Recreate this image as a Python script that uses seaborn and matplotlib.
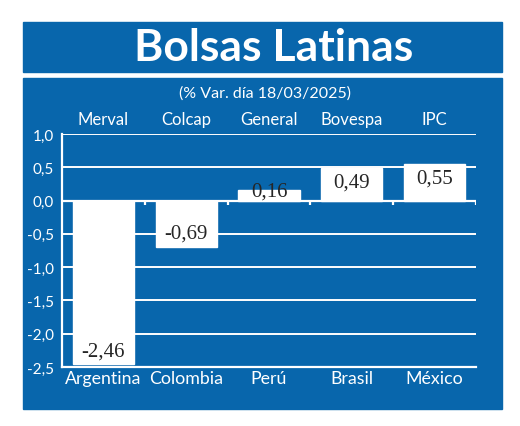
import numpy as np
import pandas as pd
import matplotlib.pyplot as plt
import seaborn as sns
from matplotlib.patches import Rectangle
from matplotlib.ticker import FuncFormatter
import matplotlib.transforms as mtransforms

# datos del gráfico
paises = ["Argentina", "Colombia", "Perú", "Brasil", "México"]
indices = ["Merval", "Colcap", "General", "Bovespa", "IPC"]
variacion = [-2.46, -0.69, 0.16, 0.49, 0.55]
y_ticks = [1.0, 0.5, 0.0, -0.5, -1.0, -1.5, -2.0, -2.5]

AZUL = "#0866ac"
SANS = ["Lato", "DejaVu Sans"]
SERIF = ["Liberation Serif", "DejaVu Serif"]

sns.set_style("white")
plt.rcParams["font.family"] = SANS

df = pd.DataFrame({"pais": paises, "indice": indices, "var": variacion})

W, H = 520, 427
fig = plt.figure(figsize=(W / 100, H / 100), dpi=100)
fig.patch.set_facecolor("white")

# cajas azules de fondo
fig.patches.append(Rectangle((23 / W, 1 - 73 / H), 479 / W, 50 / H,
                             transform=fig.transFigure, color=AZUL, zorder=-10))
fig.patches.append(Rectangle((23 / W, 1 - 410 / H), 479 / W, 331 / H,
                             transform=fig.transFigure, color=AZUL, zorder=-10))

fig.text(274 / W, 1 - 48 / H, "Bolsas Latinas", color="white", fontsize=32,
         fontweight="bold", ha="center", va="center")
fig.text(265 / W, 1 - 94 / H, "(% Var. día 18/03/2025)", color="white",
         fontsize=11.5, ha="center", va="center")

ax = fig.add_axes([62 / W, 1 - 368 / H, 414 / W, 233 / H])
ax.set_zorder(1)
ax.set_facecolor(AZUL)

sns.barplot(data=df, x="pais", y="var", color="white", width=0.74,
            saturation=1, ax=ax, zorder=3)

ax.set_ylim(-2.5, 1.0)
ax.set_xlim(-0.5, len(paises) - 0.5)
ax.set_yticks(y_ticks)
ax.yaxis.set_major_formatter(FuncFormatter(lambda v, p: f"{v:.1f}".replace(".", ",")))
ax.grid(axis="y", color="white", linewidth=1.4, zorder=1)
ax.grid(axis="x", visible=False)
ax.set_axisbelow(True)
ax.set_xlabel("")
ax.set_ylabel("")

for s in ["top", "right"]:
    ax.spines[s].set_visible(False)
for s in ["left", "bottom"]:
    ax.spines[s].set_color("white")
    ax.spines[s].set_linewidth(1.6)

ax.tick_params(axis="y", colors="white", labelsize=11, length=0, pad=6)
ax.tick_params(axis="x", colors="white", labelsize=12.8, length=0, pad=2)

# linea del cero con marcas entre categorias
ax.axhline(0, color="white", linewidth=1.6, zorder=2)
ax.vlines(np.arange(0.5, len(paises)), -0.07, 0, color="white", linewidth=1.6, zorder=2)

# nombres de indices arriba
trans = mtransforms.blended_transform_factory(ax.transData, ax.transAxes)
for i, nombre in enumerate(indices):
    ax.text(i, 1.0 + 15 / 233, nombre, transform=trans, color="white",
            fontsize=12, ha="center", va="center")

# etiquetas de valores
for i, v in enumerate(variacion):
    txt = f"{v:.2f}".replace(".", ",")
    if v < 0:
        ax.annotate(txt, (i, v), xytext=(0, 3), textcoords="offset points",
                    ha="center", va="bottom", fontsize=15, family=SERIF, zorder=5)
    elif v < 0.3:
        ax.annotate(txt, (i, v), xytext=(0, -1), textcoords="offset points",
                    ha="center", va="center", fontsize=15, family=SERIF, zorder=5)
    else:
        ax.annotate(txt, (i, v), xytext=(0, -3), textcoords="offset points",
                    ha="center", va="top", fontsize=15, family=SERIF, zorder=5)

fig.savefig("out.png", dpi=100)
